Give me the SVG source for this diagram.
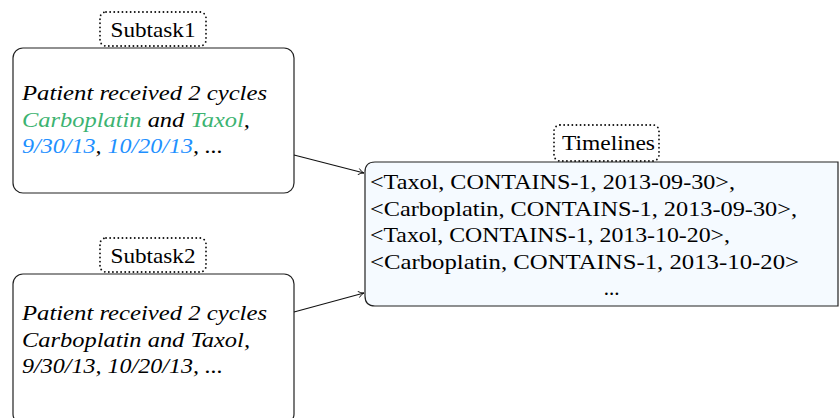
<svg xmlns="http://www.w3.org/2000/svg" width="839" height="418" viewBox="0 0 839 418">
<style>
.box{fill:#fff;stroke:#222;stroke-width:1.2}
.tl{fill:#f5faff;stroke:#222;stroke-width:1.2}
.lbl{fill:#fff;stroke:#111;stroke-width:1.8;stroke-dasharray:0.1 4;stroke-linecap:round}
.t{font-family:"Liberation Serif","Times New Roman",serif;font-size:21px;fill:#000}
.i{font-style:italic}
.g{fill:#3cb371}
.b{fill:#1e90ff}
.conn{stroke:#111;stroke-width:1.1;fill:none}
</style>
<defs>
<marker id="arr" viewBox="0 0 10 10" refX="9" refY="5" markerWidth="8" markerHeight="8" markerUnits="userSpaceOnUse" orient="auto">
<path d="M2,1 Q5,4.2 9,5 Q5,5.8 2,9" fill="none" stroke="#111" stroke-width="1.1"/>
</marker>
</defs>
<g id="subtask1">
<rect class="box" x="13" y="48" width="281" height="145" rx="10"/>
<text class="t i" x="22" y="100" textLength="245" lengthAdjust="spacingAndGlyphs">Patient received 2 cycles</text>
<text class="t i" x="22" y="127" textLength="228" lengthAdjust="spacingAndGlyphs"><tspan class="g">Carboplatin</tspan> and <tspan class="g">Taxol</tspan>,</text>
<text class="t i" x="22" y="153" textLength="201" lengthAdjust="spacingAndGlyphs"><tspan class="b">9/30/13</tspan>, <tspan class="b">10/20/13</tspan>, ...</text>
</g>
<g id="subtask1-label">
<rect class="lbl" x="100" y="12" width="106" height="34" rx="6"/>
<text class="t" x="153" y="37" text-anchor="middle" textLength="85" lengthAdjust="spacingAndGlyphs">Subtask1</text>
</g>
<g id="subtask2">
<rect class="box" x="13" y="274" width="281" height="150" rx="10"/>
<text class="t i" x="22" y="320" textLength="245" lengthAdjust="spacingAndGlyphs">Patient received 2 cycles</text>
<text class="t i" x="22" y="347" textLength="228" lengthAdjust="spacingAndGlyphs">Carboplatin and Taxol,</text>
<text class="t i" x="22" y="373" textLength="201" lengthAdjust="spacingAndGlyphs">9/30/13, 10/20/13, ...</text>
</g>
<g id="subtask2-label">
<rect class="lbl" x="100" y="238" width="106" height="34" rx="6"/>
<text class="t" x="153" y="263" text-anchor="middle" textLength="85" lengthAdjust="spacingAndGlyphs">Subtask2</text>
</g>
<g id="timelines">
<path class="tl" d="M838,162 L375,162 Q365,162 365,172 L365,296 Q365,306 375,306 L838,306 Z"/>
<text class="t" x="370" y="189" textLength="365" lengthAdjust="spacingAndGlyphs">&lt;Taxol, CONTAINS-1, 2013-09-30&gt;,</text>
<text class="t" x="370" y="215.5" textLength="427" lengthAdjust="spacingAndGlyphs">&lt;Carboplatin, CONTAINS-1, 2013-09-30&gt;,</text>
<text class="t" x="370" y="242" textLength="360" lengthAdjust="spacingAndGlyphs">&lt;Taxol, CONTAINS-1, 2013-10-20&gt;,</text>
<text class="t" x="370" y="268.5" textLength="429" lengthAdjust="spacingAndGlyphs">&lt;Carboplatin, CONTAINS-1, 2013-10-20&gt;</text>
<text class="t" x="611.5" y="295" text-anchor="middle">...</text>
</g>
<g id="timelines-label">
<rect class="lbl" x="554" y="125" width="105" height="36" rx="6"/>
<text class="t" x="608.5" y="150" text-anchor="middle" textLength="93" lengthAdjust="spacingAndGlyphs">Timelines</text>
</g>
<g id="connectors">
<line class="conn" x1="294" y1="155" x2="364" y2="173" marker-end="url(#arr)"/>
<line class="conn" x1="294" y1="312" x2="364" y2="293" marker-end="url(#arr)"/>
</g>
</svg>
